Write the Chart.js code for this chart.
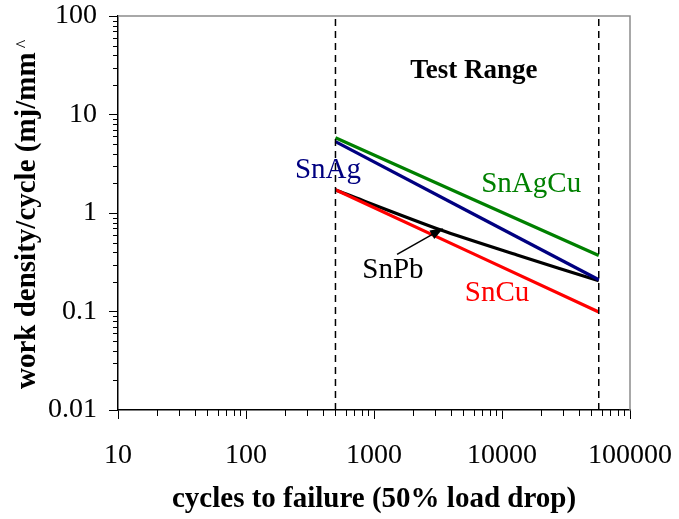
<!DOCTYPE html>
<html>
<head>
<meta charset="utf-8">
<script src="https://cdn.jsdelivr.net/npm/chart.js@4/dist/chart.umd.min.js"></script>
<style>
  html, body { margin: 0; padding: 0; background: #fff; }
  #wrap { width: 679px; height: 519px; }
</style>
</head>
<body>
<div id="wrap"><canvas id="fatigue" width="679" height="519"></canvas></div>
<script>
// axes
const xTicks = [10, 100, 1000, 10000, 100000];
const yTicks = [0.01, 0.1, 1, 10, 100];

// test range limits (cycles)
const rangeLo = 500;
const rangeHi = 57000;

// fitted curves, [cycles, work density]
const snAgCu = [[500, 5.8], [57000, 0.37]];
const snAg   = [[500, 5.3], [57000, 0.21]];
const snPb   = [[500, 1.71], [3330, 0.672], [13100, 0.375], [57000, 0.205]];
const snCu   = [[500, 1.72], [57000, 0.099]];

// text labels placed in data space
const labels = [
  { text: 'SnAg',       x: 437,   y: 2.73, color: '#000080', bold: false },
  { text: 'SnAgCu',     x: 16900, y: 1.97, color: '#008000', bold: false },
  { text: 'SnPb',       x: 1406,  y: 0.264, color: '#000000', bold: false },
  { text: 'SnCu',       x: 9140,  y: 0.151, color: '#ff0000', bold: false },
  { text: 'Test Range', x: 6040,  y: 27.7, color: '#000000', bold: true }
];
const arrowFrom = [1514, 0.38];
const arrowTo   = [3480, 0.70];

const SERIF = '"Liberation Serif", "Times New Roman", serif';

const pts = arr => arr.map(p => ({ x: p[0], y: p[1] }));

function curve(data, color) {
  return {
    data: pts(data), borderColor: color, borderWidth: 3.2,
    pointRadius: 0, tension: 0.25
  };
}
function dashed(xv) {
  return {
    data: [{ x: xv, y: yTicks[0] }, { x: xv, y: yTicks[yTicks.length - 1] }],
    borderColor: '#000', borderWidth: 1.5, borderDash: [7, 5], pointRadius: 0
  };
}

// minor ticks, frame, labels, arrow, axis titles
const decor = {
  id: 'decor',
  afterDatasetsDraw(chart) {
    const { ctx, chartArea: a, scales: { x, y } } = chart;
    ctx.save();
    // gray frame top / right
    ctx.strokeStyle = '#8c8c8c';
    ctx.lineWidth = 1.5;
    ctx.beginPath();
    ctx.moveTo(a.left, a.top); ctx.lineTo(a.right, a.top); ctx.lineTo(a.right, a.bottom);
    ctx.stroke();

    // minor ticks
    ctx.strokeStyle = '#000';
    ctx.lineWidth = 1;
    for (let d = 10; d < 100000; d *= 10) {
      for (let m = 2; m <= 9; m++) {
        const px = Math.round(x.getPixelForValue(d * m)) + 0.5;
        ctx.beginPath(); ctx.moveTo(px, a.bottom); ctx.lineTo(px, a.bottom + 6); ctx.stroke();
      }
    }
    for (let d = 0.01; d < 100; d *= 10) {
      for (let m = 2; m <= 9; m++) {
        const py = Math.round(y.getPixelForValue(d * m)) + 0.5;
        ctx.beginPath(); ctx.moveTo(a.left, py); ctx.lineTo(a.left - 5, py); ctx.stroke();
      }
    }

    // series labels
    ctx.textAlign = 'center';
    ctx.textBaseline = 'middle';
    labels.forEach(l => {
      ctx.fillStyle = l.color;
      ctx.font = (l.bold ? 'bold 27px ' : '29px ') + SERIF;
      ctx.fillText(l.text, x.getPixelForValue(l.x), y.getPixelForValue(l.y));
    });

    // arrow to SnPb
    const x0 = x.getPixelForValue(arrowFrom[0]), y0 = y.getPixelForValue(arrowFrom[1]);
    const x1 = x.getPixelForValue(arrowTo[0]),   y1 = y.getPixelForValue(arrowTo[1]);
    const ang = Math.atan2(y1 - y0, x1 - x0);
    ctx.strokeStyle = '#000';
    ctx.fillStyle = '#000';
    ctx.lineWidth = 1.5;
    ctx.beginPath(); ctx.moveTo(x0, y0);
    ctx.lineTo(x1 - 10 * Math.cos(ang), y1 - 10 * Math.sin(ang)); ctx.stroke();
    ctx.beginPath();
    ctx.moveTo(x1, y1);
    ctx.lineTo(x1 - 14 * Math.cos(ang - 0.35), y1 - 14 * Math.sin(ang - 0.35));
    ctx.lineTo(x1 - 14 * Math.cos(ang + 0.35), y1 - 14 * Math.sin(ang + 0.35));
    ctx.closePath(); ctx.fill();

    // axis titles
    ctx.fillStyle = '#000';
    ctx.font = 'bold 29px ' + SERIF;
    ctx.textAlign = 'center';
    ctx.textBaseline = 'alphabetic';
    ctx.fillText('cycles to failure (50% load drop)', (a.left + a.right) / 2, 507);
    ctx.translate(35, 389);
    ctx.rotate(-Math.PI / 2);
    ctx.textAlign = 'left';
    const yTitle = 'work density/cycle (mj/mm';
    ctx.fillText(yTitle, 0, 0);
    // small superscript mark after the unit
    const w = ctx.measureText(yTitle).width;
    ctx.font = '18px ' + SERIF;
    ctx.fillText('^', w + 4, -6);
    ctx.restore();
  }
};

new Chart(document.getElementById('fatigue').getContext('2d'), {
  type: 'line',
  data: {
    datasets: [
      dashed(rangeLo), dashed(rangeHi),
      curve(snAgCu, '#008000'),
      curve(snAg, '#000080'),
      curve(snCu, '#ff0000'),
      curve(snPb, '#000000')
    ]
  },
  options: {
    responsive: false,
    animation: false,
    layout: { padding: { top: 16, right: 49, left: 0, bottom: 0 } },
    plugins: { legend: { display: false }, tooltip: { enabled: false } },
    scales: {
      x: {
        type: 'logarithmic', min: 10, max: 100000,
        afterBuildTicks: s => { s.ticks = xTicks.map(v => ({ value: v })); },
        afterFit: s => { s.height = 109; s.paddingLeft = 0; s.paddingRight = 0; },
        grid: { drawOnChartArea: false, tickLength: 9, color: '#000' },
        border: { color: '#000', width: 1.5 },
        ticks: {
          color: '#000', font: { family: SERIF, size: 28 }, padding: 20,
          maxRotation: 0, autoSkip: false,
          callback: v => String(v)
        }
      },
      y: {
        type: 'logarithmic', min: 0.01, max: 100,
        afterBuildTicks: s => { s.ticks = yTicks.map(v => ({ value: v })); },
        afterFit: s => { s.width = 118; s.paddingTop = 0; s.paddingBottom = 0; },
        grid: { drawOnChartArea: false, tickLength: 9, color: '#000' },
        border: { color: '#000', width: 1.5 },
        ticks: {
          color: '#000', font: { family: SERIF, size: 28 }, padding: 12,
          autoSkip: false,
          callback: v => String(v)
        }
      }
    }
  },
  plugins: [decor]
});
</script>
</body>
</html>
